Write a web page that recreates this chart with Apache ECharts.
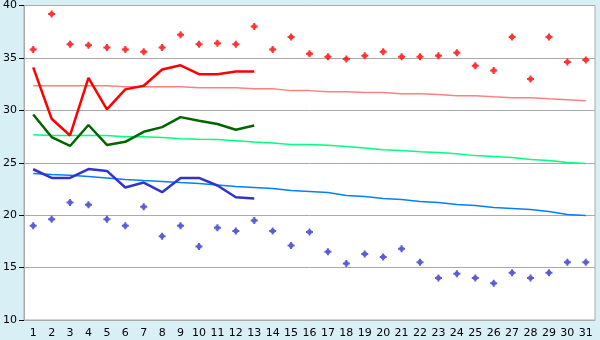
<!DOCTYPE html>
<html>
<head>
<meta charset="utf-8">
<script src="https://cdn.jsdelivr.net/npm/echarts@6/dist/echarts.min.js"></script>
<style>
html,body{margin:0;padding:0;background:#d9eff6;}
#c{width:600px;height:340px;}
</style>
</head>
<body>
<div id="c"></div>
<script>
var days = ['1','2','3','4','5','6','7','8','9','10','11','12','13','14','15','16','17','18','19','20','21','22','23','24','25','26','27','28','29','30','31'];
var yTicks = [10, 15, 20, 25, 30, 35, 40];

var maxRecord = [35.8,39.2,36.3,36.2,36.0,35.8,35.6,36.0,37.2,36.3,36.4,36.3,38.0,35.8,37.0,35.4,35.1,34.9,35.2,35.6,35.1,35.1,35.2,35.5,34.25,33.8,37.0,33.0,37.0,34.6,34.8];
var maxActual = [34.1,29.2,27.6,33.1,30.1,32.0,32.35,33.9,34.3,33.45,33.45,33.7,33.7];
var maxNormal = [32.35,32.35,32.35,32.35,32.35,32.26,32.26,32.26,32.26,32.16,32.16,32.16,32.07,32.07,31.88,31.88,31.78,31.78,31.69,31.69,31.59,31.59,31.5,31.4,31.4,31.3,31.21,31.21,31.11,31.02,30.92];
var meanActual = [29.6,27.45,26.6,28.6,26.7,27.0,27.95,28.4,29.35,29.0,28.7,28.15,28.55];
var meanNormal = [27.68,27.59,27.59,27.59,27.59,27.49,27.49,27.4,27.3,27.25,27.21,27.11,26.97,26.88,26.73,26.73,26.68,26.54,26.4,26.25,26.16,26.06,25.97,25.87,25.68,25.59,25.49,25.3,25.21,25.02,24.92];
var minActual = [24.38,23.55,23.55,24.4,24.22,22.64,23.11,22.19,23.55,23.55,22.83,21.71,21.59];
var minNormal = [23.97,23.87,23.8,23.68,23.55,23.4,23.3,23.21,23.11,23.02,22.88,22.73,22.64,22.54,22.35,22.26,22.16,21.88,21.78,21.59,21.5,21.3,21.21,21.02,20.92,20.73,20.64,20.54,20.35,20.07,19.97];
var minRecord = [19.0,19.6,21.2,21.0,19.6,19.0,20.8,18.0,19.0,17.0,18.8,18.5,19.5,18.5,17.1,18.4,16.5,15.4,16.3,16.0,16.8,15.5,14.0,14.4,14.0,13.5,14.5,14.0,14.5,15.5,15.5];

var plusPath = 'path://M2.5,0H4.5V1.5H5.5V2.5H7V4.5H5.5V5.5H4.5V7H2.5V5.5H1.5V4.5H0V2.5H1.5V1.5H2.5Z';

function lineSeries(data, color, width) {
  return {type:'line', data:data, showSymbol:false, symbol:'none', smooth:false,
    lineStyle:{color:color, width:width}, itemStyle:{color:color}, z:3, animation:false};
}
function scatterSeries(data, color) {
  return {type:'scatter', data:data, symbol:plusPath, symbolSize:7,
    itemStyle:{color:color}, z:4, animation:false};
}

var chart = echarts.init(document.getElementById('c'), null, {renderer:'canvas'});
chart.setOption({
  backgroundColor:'#d9eff6',
  animation:false,
  textStyle:{fontFamily:'DejaVu Sans'},
  grid:{left:20, top:5, right:5, bottom:20, show:true, backgroundColor:'#ffffff', borderColor:'#aaaaaa', borderWidth:1, containLabel:false},
  xAxis:{type:'category', data:days, boundaryGap:true,
    axisLine:{lineStyle:{color:'#aaaaaa', width:1}},
    axisTick:{alignWithLabel:true, length:5, lineStyle:{color:'#000000'}},
    axisLabel:{color:'#000', fontSize:11, margin:8, interval:0, fontFamily:'DejaVu Sans'},
    splitLine:{show:false}},
  yAxis:{type:'value', min:yTicks[0], max:yTicks[yTicks.length-1], interval:5,
    axisLine:{show:true, lineStyle:{color:'#aaaaaa', width:1}},
    axisTick:{show:true, length:5, lineStyle:{color:'#000000'}},
    axisLabel:{color:'#000', fontSize:11, margin:7, fontFamily:'DejaVu Sans'},
    splitLine:{show:true, lineStyle:{color:'#aaaaaa', width:1}}},
  series:[
    lineSeries(maxNormal, '#ff8080', 1.5),
    lineSeries(meanNormal, '#00ff80', 1.5),
    lineSeries(minNormal, '#0080ff', 1.5),
    lineSeries(maxActual, '#ff0000', 2.5),
    lineSeries(meanActual, '#006600', 2.5),
    lineSeries(minActual, '#3333cc', 2.5),
    scatterSeries(maxRecord, '#ff0000'),
    scatterSeries(minRecord, '#3333cc')
  ]
});
</script>
</body>
</html>
